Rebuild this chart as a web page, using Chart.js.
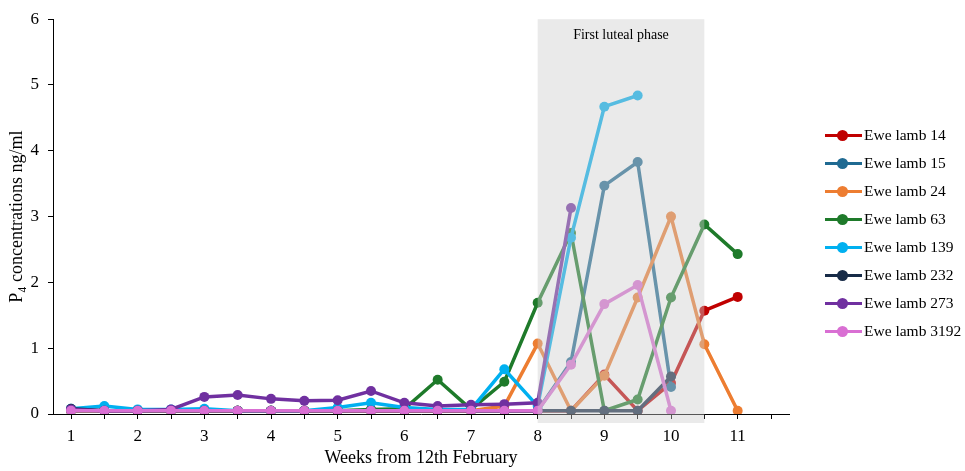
<!DOCTYPE html>
<html>
<head>
<meta charset="utf-8">
<script src="https://cdn.jsdelivr.net/npm/chart.js@4.4.0/dist/chart.umd.min.js"></script>
<style>
    body { margin: 0; background: #fff; }
    #wrap { position: relative; width: 965px; height: 471px; }
    #legend {
        position: absolute; left: 825px; top: 121px;
        font-family: 'Liberation Serif', 'Times New Roman', serif;
        font-size: 15.5px; color: #000;
    }
    .item { display: flex; align-items: center; height: 28px; white-space: nowrap; }
    .swatch { position: relative; width: 37px; height: 3px; margin-right: 2px; }
    .swatch span { position: absolute; left: 12px; top: -4px; width: 11px; height: 11px; border-radius: 50%; }
</style>
</head>
<body>
<div id="wrap">
    <canvas id="chart" width="965" height="471"></canvas>
    <div id="legend"></div>
</div>
<script>
// Sampling weeks (x values) and tick positions
const weeks = [1, 1.5, 2, 2.5, 3, 3.5, 4, 4.5, 5, 5.5, 6, 6.5, 7, 7.5, 8, 8.5, 9, 9.5, 10, 10.5, 11];
const xTicks = [1, 1.5, 2, 2.5, 3, 3.5, 4, 4.5, 5, 5.5, 6, 6.5, 7, 7.5, 8, 8.5, 9, 9.5, 10, 10.5, 11, 11.5];
const yTicks = [0, 1, 2, 3, 4, 5, 6];

// P4 concentrations (ng/ml) per ewe lamb, null = no sample
const lamb14   = [0.05, 0.05, 0.05, 0.05, 0.05, 0.05, 0.05, 0.05, 0.05, 0.05, 0.05, 0.05, 0.05, 0.05, 0.05, 0.05, 0.60, 0.05, 0.47, 1.57, 1.78];
const lamb15   = [0.05, 0.05, 0.05, 0.05, 0.05, 0.05, 0.05, 0.05, 0.05, 0.05, 0.05, 0.05, 0.05, 0.05, 0.05, 0.79, 3.47, 3.83, 0.41, null, null];
const lamb24   = [0.05, 0.05, 0.05, 0.05, 0.05, 0.05, 0.05, 0.05, 0.05, 0.05, 0.05, 0.05, 0.05, 0.12, 1.07, 0.05, 0.58, 1.77, 3.00, 1.06, 0.05];
const lamb63   = [0.05, 0.05, 0.05, 0.05, 0.05, 0.05, 0.05, 0.05, 0.05, 0.07, 0.08, 0.52, 0.07, 0.49, 1.69, 2.75, 0.05, 0.22, 1.77, 2.88, 2.43];
const lamb139  = [0.08, 0.12, 0.07, 0.07, 0.08, 0.05, 0.05, 0.05, 0.10, 0.17, 0.10, 0.07, 0.07, 0.68, 0.12, 2.68, 4.67, 4.84, null, null, null];
const lamb232  = [0.08, 0.05, 0.05, 0.05, 0.05, 0.05, 0.05, 0.05, 0.05, 0.05, 0.05, 0.05, 0.05, 0.05, 0.05, 0.05, 0.05, 0.05, 0.57, null, null];
const lamb273  = [0.07, 0.05, 0.05, 0.07, 0.26, 0.29, 0.23, 0.20, 0.21, 0.35, 0.17, 0.12, 0.14, 0.15, 0.17, 3.13, null, null, null, null, null];
const lamb3192 = [0.05, 0.05, 0.05, 0.05, 0.05, 0.05, 0.05, 0.05, 0.05, 0.05, 0.05, 0.05, 0.05, 0.05, 0.05, 0.75, 1.67, 1.96, 0.05, null, null];

const seriesNames  = ['Ewe lamb 14', 'Ewe lamb 15', 'Ewe lamb 24', 'Ewe lamb 63', 'Ewe lamb 139', 'Ewe lamb 232', 'Ewe lamb 273', 'Ewe lamb 3192'];
const seriesData   = [lamb14, lamb15, lamb24, lamb63, lamb139, lamb232, lamb273, lamb3192];
const seriesColors = ['#C00000', '#1F6A92', '#ED7D31', '#1E7A2A', '#00B0F0', '#172B47', '#7030A0', '#D96FD3'];

// Shaded luteal phase window
const bandStart = 8;
const bandEnd = 10.5;
const bandLabel = 'First luteal phase';

const serif = "'Liberation Serif', 'Times New Roman', serif";

const datasets = seriesNames.map((name, i) => ({
    label: name,
    data: weeks.map((w, j) => ({ x: w, y: seriesData[i][j] })).filter(p => p.y !== null),
    borderColor: seriesColors[i],
    backgroundColor: seriesColors[i],
    pointBackgroundColor: seriesColors[i],
    pointBorderWidth: 0,
    pointRadius: 5,
    borderWidth: 3.5,
    tension: 0,
    order: seriesNames.length - i
}));

// grey band drawn over the lines, like the original
const lutealBand = {
    id: 'lutealBand',
    afterDatasetsDraw(chart) {
        const { ctx, scales: { x, y } } = chart;
        const left = x.getPixelForValue(bandStart);
        const right = x.getPixelForValue(bandEnd);
        const top = y.getPixelForValue(6);
        const bottom = y.getPixelForValue(0) + 9;
        ctx.save();
        ctx.fillStyle = 'rgba(205, 205, 205, 0.42)';
        ctx.fillRect(left, top, right - left, bottom - top);
        ctx.fillStyle = '#000';
        ctx.font = '14px ' + serif;
        ctx.textAlign = 'center';
        ctx.textBaseline = 'middle';
        ctx.fillText(bandLabel, (left + right) / 2, top + 16);
        ctx.restore();
    }
};

new Chart(document.getElementById('chart'), {
    type: 'line',
    data: { datasets: datasets },
    options: {
        responsive: false,
        animation: false,
        devicePixelRatio: 1,
        layout: { padding: { top: 14, right: 176, left: 0, bottom: 0 } },
        plugins: {
            legend: { display: false },
            tooltip: { enabled: false }
        },
        scales: {
            x: {
                type: 'linear',
                min: 0.73,
                max: 11.77,
                afterBuildTicks: s => { s.ticks = xTicks.map(v => ({ value: v })); },
                afterFit: s => { s.height = 57; },
                ticks: {
                    autoSkip: false,
                    maxRotation: 0,
                    padding: 7,
                    color: '#000',
                    font: { family: serif, size: 17 },
                    callback: v => (Number.isInteger(v) && v <= 11) ? v : ''
                },
                grid: { drawOnChartArea: false, tickLength: 5, color: '#000' },
                border: { color: '#000' },
                title: {
                    display: true,
                    text: 'Weeks from 12th February',
                    color: '#000',
                    font: { family: serif, size: 18 },
                    padding: { top: 0, bottom: 2 }
                }
            },
            y: {
                min: 0,
                max: 6,
                afterBuildTicks: s => { s.ticks = yTicks.map(v => ({ value: v })); },
                afterFit: s => { s.width = 53; },
                ticks: {
                    padding: 9,
                    color: '#000',
                    font: { family: serif, size: 17 }
                },
                grid: { drawOnChartArea: false, tickLength: 5, color: '#000' },
                border: { color: '#000' },
                title: {
                    display: true,
                    text: 'P\u2084 concentrations ng/ml',
                    color: '#000',
                    font: { family: serif, size: 18 },
                    padding: { top: 6, bottom: 0 }
                }
            }
        }
    },
    plugins: [lutealBand]
});

// HTML legend built from the same series arrays
const legend = document.getElementById('legend');
seriesNames.forEach((name, i) => {
    const item = document.createElement('div');
    item.className = 'item';
    const sw = document.createElement('div');
    sw.className = 'swatch';
    sw.style.background = seriesColors[i];
    const dot = document.createElement('span');
    dot.style.background = seriesColors[i];
    sw.appendChild(dot);
    const txt = document.createElement('div');
    txt.textContent = name;
    item.appendChild(sw);
    item.appendChild(txt);
    legend.appendChild(item);
});
</script>
</body>
</html>
